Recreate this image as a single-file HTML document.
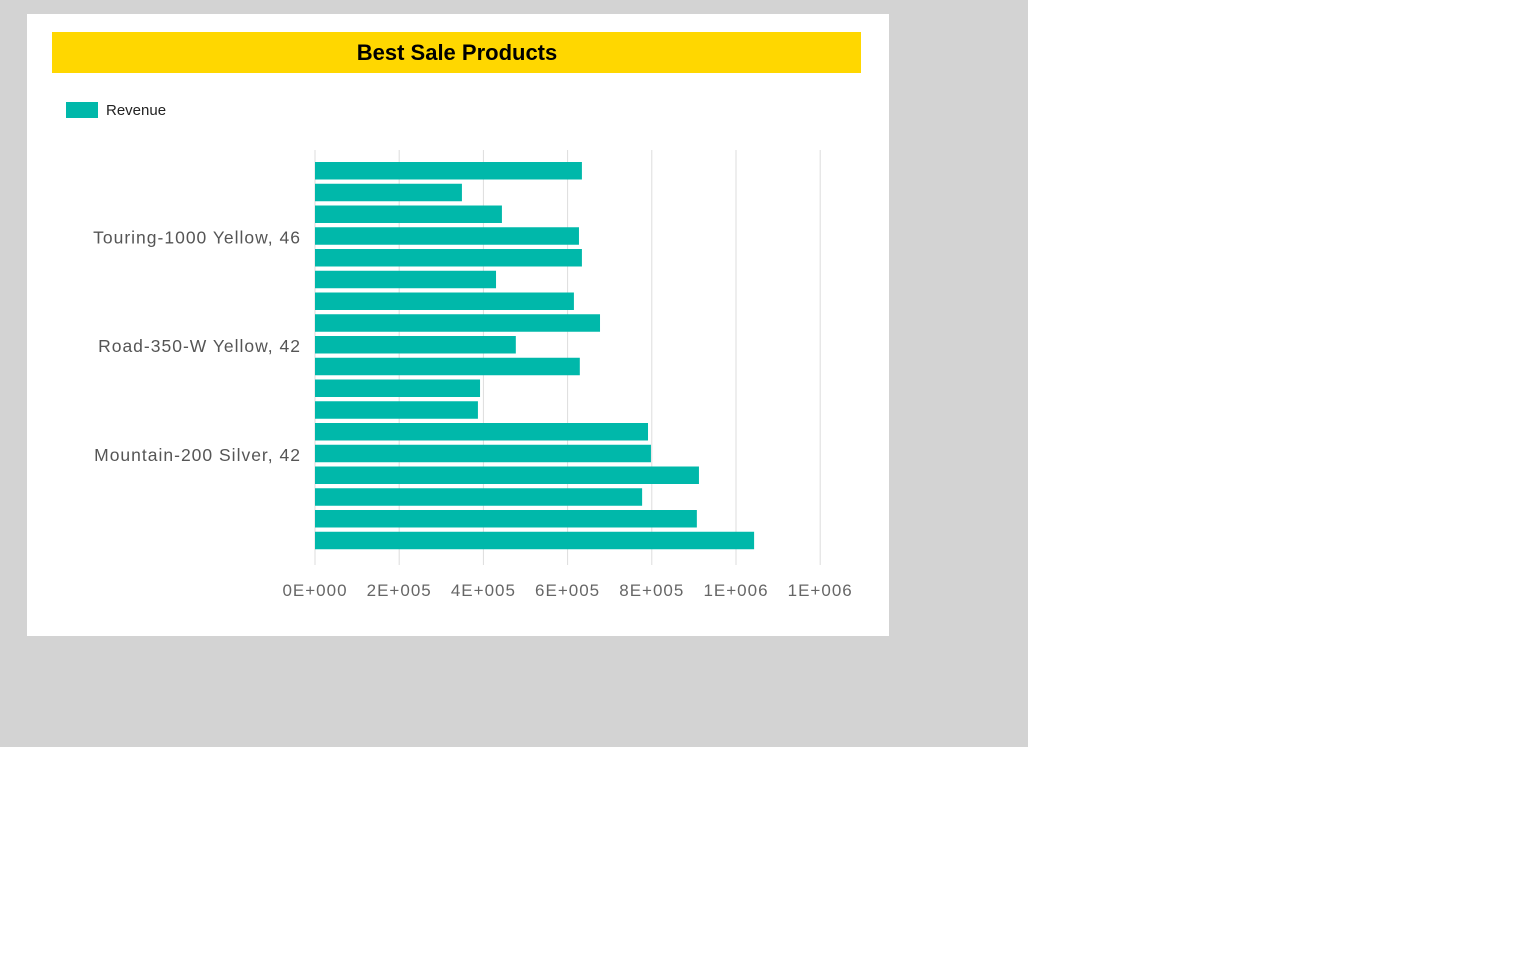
<!DOCTYPE html>
<html><head><meta charset="utf-8"><style>
body{margin:0;width:1536px;height:960px;background:#fff;font-family:"Liberation Sans",sans-serif;}
</style></head><body>
<svg width="1536" height="960">
<rect x="0" y="0" width="1028" height="747" fill="#d3d3d3"/>
<rect x="27" y="14" width="862" height="622" fill="#fff"/>
<rect x="52" y="32" width="809" height="41" fill="#ffd700"/>
<text x="457" y="60" text-anchor="middle" font-size="22" font-weight="bold" fill="#000">Best Sale Products</text>
<rect x="66" y="102" width="32" height="16" fill="#00b8aa"/>
<text x="106" y="115" font-size="15" fill="#222">Revenue</text>
<g id="grid"></g><g id="bars"></g><g id="ylabels"></g><g id="xlabels"></g>
</svg>
<script>
const categories=["Product 1","Product 2","Product 3","Touring-1000 Yellow, 46","Product 5","Product 6","Product 7","Product 8","Road-350-W Yellow, 42","Product 10","Product 11","Product 12","Product 13","Mountain-200 Silver, 42","Product 15","Product 16","Product 17","Product 18"];
const revenue=[634000,349000,444000,627000,634000,430000,615000,677000,477000,629000,392000,387000,791000,798000,912000,777000,907000,1043000];
const tickValues=[0,200000,400000,600000,800000,1000000,1200000];
const tickLabels=["0E+000","2E+005","4E+005","6E+005","8E+005","1E+006","1E+006"];
const labelIdx=[3,8,13];
const NS="http://www.w3.org/2000/svg";
const x=v=>315+v/200000*84.2;
const pitch=21.75, y=i=>162+i*pitch;
function mk(t,a,p){const e=document.createElementNS(NS,t);for(const k in a)e.setAttribute(k,a[k]);p.appendChild(e);return e;}
const g=document.getElementById('grid'),b=document.getElementById('bars'),yl=document.getElementById('ylabels'),xl=document.getElementById('xlabels');
tickValues.forEach((v,i)=>{
 const l=mk('line',{x1:x(v),x2:x(v),y1:150,y2:565,stroke:'#ddd','stroke-width':1},g);
 
 
 const t=mk('text',{x:x(v),y:596,'text-anchor':'middle','font-size':17,fill:'#666','letter-spacing':1},xl);
 t.textContent=tickLabels[i];
 
 
});
revenue.forEach((v,i)=>{
 const r=mk('rect',{x:315,y:y(i),width:x(v)-315,height:17.5,fill:'#00b8aa'},b);
 
 
});
labelIdx.forEach(i=>{
 const t=mk('text',{x:301,y:y(i)+16,'text-anchor':'end','font-size':17.5,fill:'#555','letter-spacing':1},yl);
 t.textContent=categories[i];
 
 
});
</script>
</body></html>
